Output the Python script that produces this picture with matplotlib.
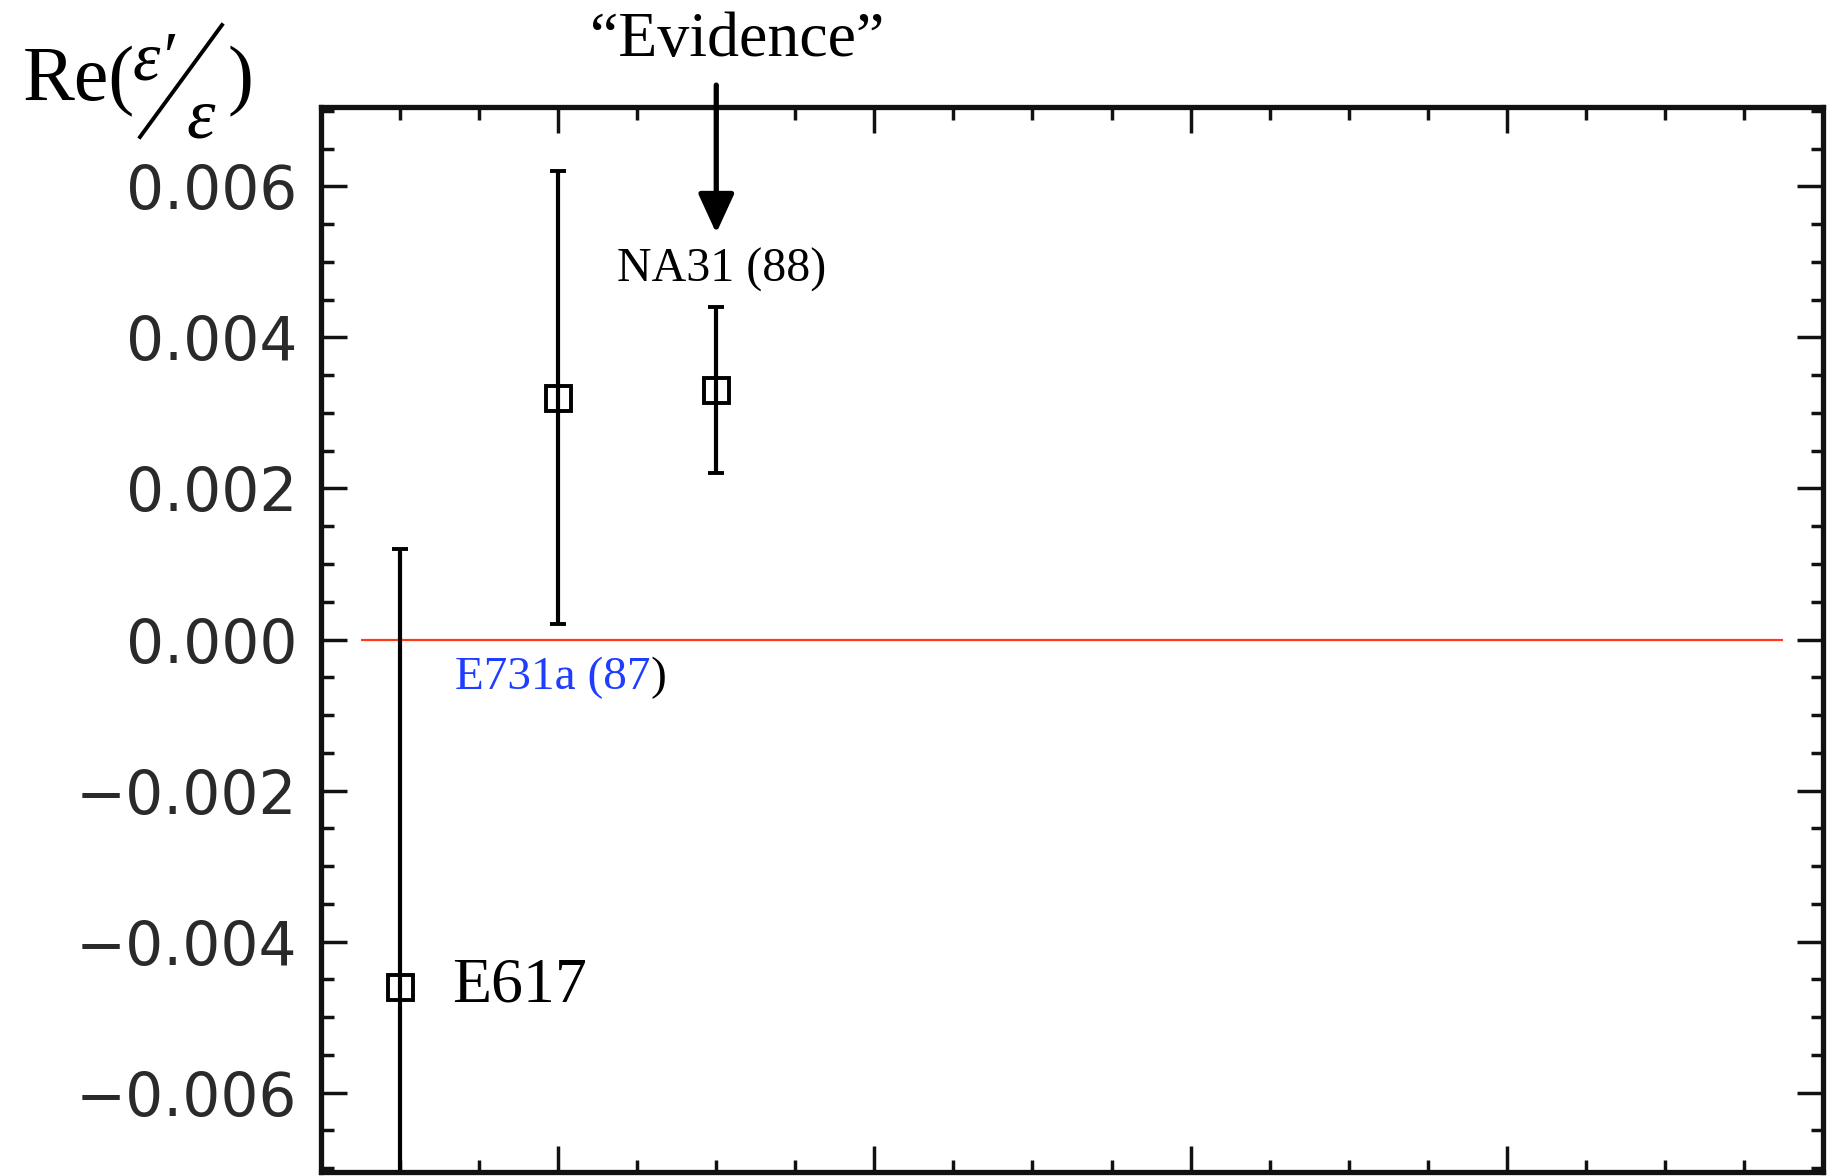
import matplotlib
matplotlib.use("Agg")
import matplotlib.pyplot as plt
from matplotlib.lines import Line2D
from matplotlib.ticker import MultipleLocator, FuncFormatter, NullFormatter

# data
experiments = ['E617', 'E731a (87)', 'NA31 (88)']
years = [1986, 1987, 1988]
re_eps = [-0.0046, 0.0032, 0.0033]
errors = [0.0058, 0.0030, 0.0011]

W, H = 1843, 1176
fig = plt.figure(figsize=(W / 100, H / 100), dpi=100)
ax = fig.add_axes([321 / W, 1 - 1172 / H, (1823 - 321) / W, (1172 - 107) / H])

ax.errorbar(years, re_eps, yerr=errors, fmt='s', color='k', ecolor='k',
            mfc='none', mec='k', ms=18, mew=2.8, elinewidth=3,
            capsize=6, capthick=3)

ax.hlines(0, 1985.75, 1994.75, color='#ff3a1a', lw=1.6, zorder=1)

ax.set_xlim(1985.5, 1995.0)
ax.set_ylim(-0.00705, 0.00705)

ax.xaxis.set_major_locator(MultipleLocator(2, offset=1))
ax.xaxis.set_minor_locator(MultipleLocator(0.5))
ax.xaxis.set_major_formatter(NullFormatter())
ax.yaxis.set_major_locator(MultipleLocator(0.002))
ax.yaxis.set_minor_locator(MultipleLocator(0.0005))
ax.yaxis.set_major_formatter(FuncFormatter(
    lambda v, p: ('%.3f' % v).replace('-', '\u2212')))

ax.tick_params(which='both', direction='in', top=True, right=True,
               width=2.5, color='#111111')
ax.tick_params(which='major', length=19, pad=17)
ax.tick_params(which='minor', length=9)
for lab in ax.get_yticklabels():
    lab.set_fontfamily('DejaVu Sans')
    lab.set_fontsize(43)
    lab.set_color('#2a2a2a')
for sp in ax.spines.values():
    sp.set_linewidth(3.8)
    sp.set_color('#111111')

serif = ['Liberation Serif', 'DejaVu Serif']

# labels next to the points
ax.text(1986.33, re_eps[0], experiments[0], fontsize=46, family=serif,
        va='center', ha='left')
t = ax.text(1986.35, -0.00051, experiments[1][:-1], fontsize=34, family=serif,
            va='center', ha='left', color='#1f3dff')
ax.annotate(')', xy=(1, 0), xycoords=t, va='bottom', ha='left',
            fontsize=34, family=serif, color='k')
ax.text(1987.37, 0.00489, experiments[2], fontsize=34.5, family=serif,
        va='center', ha='left')

# "Evidence" arrow
ax.text(1988.13, 0.00773, '\u201cEvidence\u201d', fontsize=46, family=serif,
        ha='center', va='baseline', clip_on=False)
ax.annotate('', xy=(years[2], 0.00538), xytext=(years[2], 0.00734),
            arrowprops=dict(arrowstyle='-|>,head_length=1.2,head_width=0.55',
                            mutation_scale=20, lw=3.8, color='k',
                            shrinkA=0, shrinkB=0),
            annotation_clip=False)

# y label Re(eps'/eps) built from pieces
fig.text(23 / W, 1 - 100 / H, 'Re(', fontsize=56, family=serif, va='baseline')
fig.text(133 / W, 1 - 80 / H, '\u03b5\u2032', fontsize=50, family=serif,
         style='italic', va='baseline')
fig.add_artist(Line2D([140 / W, 222 / W], [1 - 137 / H, 1 - 25 / H],
                      transform=fig.transFigure, color='k', lw=2.8))
fig.text(186 / W, 1 - 137 / H, '\u03b5', fontsize=52, family=serif,
         style='italic', va='baseline')
fig.text(228 / W, 1 - 100 / H, ')', fontsize=56, family=serif, va='baseline')

fig.savefig('out.png', dpi=100)
